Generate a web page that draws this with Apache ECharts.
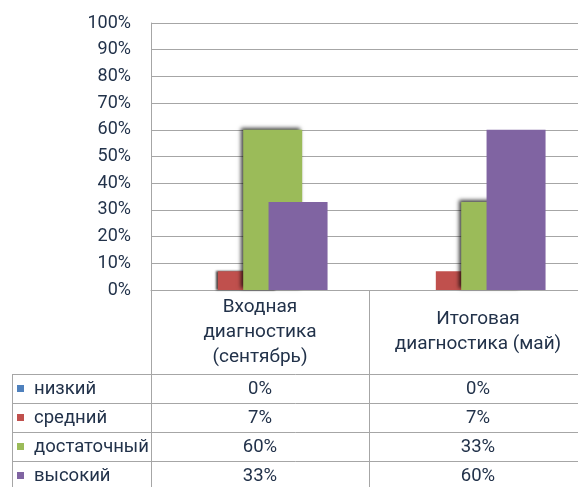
<!DOCTYPE html>
<html>
<head>
<meta charset="utf-8">
<script src="https://cdn.jsdelivr.net/npm/echarts@6/dist/echarts.min.js"></script>
<style>
  html, body { margin: 0; padding: 0; background: #fff; }
  #main { width: 578px; height: 487px; }
</style>
</head>
<body>
<div id="main"></div>
<script>
// categories and series values (percent)
const categories = ['Входная\nдиагностика\n(сентябрь)', 'Итоговая\nдиагностика (май)'];
const seriesNames = ['низкий', 'средний', 'достаточный', 'высокий'];
const nizkiy = [0, 0];
const sredniy = [7, 7];
const dostatochny = [60, 33];
const vysokiy = [33, 60];
const seriesValues = [nizkiy, sredniy, dostatochny, vysokiy];

const colors = ['#4f81bd', '#c0504d', '#9bbb59', '#8064a2'];
const textColor = '#22324a';
const lineColor = '#a6a6a6';
const fontFamily = 'Roboto, sans-serif';

const chart = echarts.init(document.getElementById('main'), null, {renderer: 'canvas'});

const shadow = {
    shadowColor: 'rgba(0,0,0,0.75)',
    shadowBlur: 4,
    shadowOffsetX: -2,
    shadowOffsetY: -2
};

const series = seriesNames.map((name, i) => ({
    name,
    type: 'bar',
    // red bar of the first group has a dark edge on its left too
    data: i === 1
        ? seriesValues[i].map((v, k) => k === 0 ? {value: v, itemStyle: Object.assign({color: colors[i]}, shadow, {shadowOffsetY: 0, shadowBlur: 2})} : v)
        : seriesValues[i],
    barWidth: 59,
    barGap: '-57%',
    itemStyle: i === 2 ? Object.assign({color: colors[i]}, shadow) : {color: colors[i]}
}));

chart.setOption({
    animation: false,
    // plot area runs a little past the right edge of the picture
    grid: {left: 151, top: 23, width: 436, bottom: 197, outerBoundsMode: 'none'},
    xAxis: {
        type: 'category',
        data: categories,
        axisLine: {show: true, lineStyle: {color: lineColor}},
        axisTick: {show: false},
        axisLabel: {
            color: textColor,
            fontFamily,
            fontSize: 19,
            lineHeight: 25,
            margin: 42,
            verticalAlign: 'middle',
            interval: 0
        }
    },
    yAxis: {
        type: 'value',
        min: 0,
        max: 100,
        interval: 10,
        axisLine: {show: true, lineStyle: {color: lineColor}},
        axisTick: {show: false},
        axisLabel: {
            formatter: '{value}%',
            color: textColor,
            fontFamily,
            fontSize: 18,
            margin: 20
        },
        splitLine: {lineStyle: {color: lineColor}}
    },
    series
});

// data table under the chart
function drawTable() {
    const c0 = chart.convertToPixel({xAxisIndex: 0}, 0);
    const c1 = chart.convertToPixel({xAxisIndex: 0}, 1);
    const step = c1 - c0;
    const plotLeft = c0 - step / 2;
    const axisY = chart.convertToPixel({yAxisIndex: 0}, 0);
    const headerBottom = 374;
    const rowH = 29;
    const tableLeft = 12;
    const els = [];
    const line = (x1, y1, x2, y2) => els.push({
        type: 'line', silent: true,
        shape: {x1, y1, x2, y2},
        style: {stroke: lineColor, lineWidth: 1}
    });
    const text = (t, x, y, align) => els.push({
        type: 'text', silent: true,
        x, y,
        style: {
            text: t, fill: textColor, font: '18.5px ' + fontFamily,
            align, verticalAlign: 'middle',
            textAlign: align, textVerticalAlign: 'middle'
        }
    });
    const W = chart.getWidth(), H = chart.getHeight();
    // horizontal rules
    for (let r = 0; r <= seriesNames.length; r++) {
        const y = Math.round(headerBottom + r * rowH) + 0.5;
        line(tableLeft + 0.5, y, W, y);
    }
    // vertical rules
    line(tableLeft + 0.5, headerBottom, tableLeft + 0.5, H);
    for (let k = 0; k <= categories.length; k++) {
        const x = Math.round(plotLeft + k * step) + 0.5;
        line(x, axisY, x, H);
    }
    seriesNames.forEach((name, r) => {
        const cy = headerBottom + r * rowH + rowH / 2 + 0.5;
        els.push({
            type: 'rect', silent: true,
            shape: {x: 17, y: Math.round(cy) - 4, width: 7, height: 7},
            style: {fill: colors[r]}
        });
        text(name, 34, cy, 'left');
        seriesValues[r].forEach((v, k) => {
            text(v + '%', plotLeft + (k + 0.5) * step, cy, 'center');
        });
    });
    chart.setOption({graphic: els});
}
drawTable();
</script>
</body>
</html>
